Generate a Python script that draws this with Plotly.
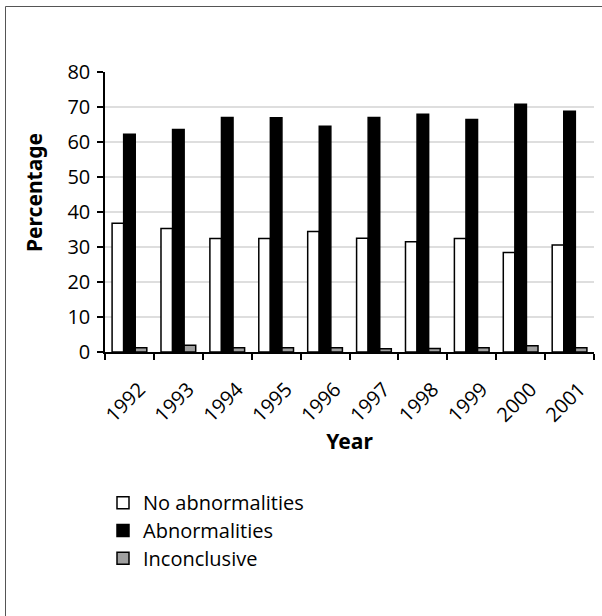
import plotly.graph_objects as go

years = ["1992", "1993", "1994", "1995", "1996", "1997", "1998", "1999", "2000", "2001"]
no_abnormalities = [36.8, 35.3, 32.4, 32.4, 34.4, 32.5, 31.5, 32.4, 28.4, 30.6]
abnormalities = [62.2, 63.6, 67.0, 66.9, 64.5, 67.0, 67.9, 66.4, 70.8, 68.8]
inconclusive = [1.2, 1.9, 1.2, 1.2, 1.2, 0.9, 1.0, 1.2, 1.8, 1.2]
series_names = ["No abnormalities", "Abnormalities", "Inconclusive"]
y_ticks = [0, 10, 20, 30, 40, 50, 60, 70, 80]

W, H = 602, 616
L, R, T, B = 105, 8, 72, 264
pw, ph = W - L - R, H - T - B

font_main = "Open Sans, Noto Sans, sans-serif"
font_bold = "Noto Sans, Open Sans, sans-serif"


def px_x(p):
    return (p - L) / pw


def px_y(p):
    return (H - B - p) / ph


def legend_label(name):
    return "<span style='font-size:20px'>" + name + "</span>"


fig = go.Figure()
line = dict(color="black", width=1.5)
fills = ["white", "black", "#a0a0a0"]
for name, vals, fill in zip(series_names, [no_abnormalities, abnormalities, inconclusive], fills):
    fig.add_trace(go.Bar(name=legend_label(name), x=years, y=vals,
                         marker=dict(color=fill, line=line)))

fig.update_layout(
    width=W, height=H,
    margin=dict(l=L, r=R, t=T, b=B, autoexpand=False),
    paper_bgcolor="white", plot_bgcolor="white",
    barmode="group", bargap=0.29, bargroupgap=0,
    font=dict(family=font_main, color="black", size=20),
    showlegend=True,
    legend=dict(x=px_x(103), y=px_y(484), xanchor="left", yanchor="top",
                font=dict(size=19, family=font_main), itemwidth=30,
                tracegroupgap=0, bgcolor="rgba(0,0,0,0)"),
    xaxis=dict(
        type="category", tickangle=-45, tickson="boundaries",
        ticks="outside", ticklen=6, tickwidth=1.5, tickcolor="black",
        showline=True, linecolor="black", linewidth=1.5,
        showgrid=False, ticklabelshift=10, ticklabelstandoff=16,
        tickfont=dict(size=20, family=font_main),
        title=dict(text="<b>Year</b>", font=dict(size=21, family=font_bold), standoff=2),
    ),
    yaxis=dict(
        range=[0, 80], tickvals=y_ticks, ticktext=[str(v) for v in y_ticks],
        ticks="outside", ticklen=6, tickwidth=1.5, tickcolor="black",
        showline=True, linecolor="black", linewidth=1.5,
        showgrid=True, gridcolor="#dedede", gridwidth=1.5,
        zeroline=False, ticklabelstandoff=3,
        tickfont=dict(size=20, family=font_main),
    ),
    annotations=[
        dict(text="<b>Percentage</b>", textangle=-90, xref="paper", yref="paper",
             x=px_x(34), y=px_y(193), xanchor="center", yanchor="middle",
             showarrow=False, font=dict(size=21, family=font_bold)),
    ],
    shapes=[
        dict(type="line", xref="paper", yref="paper",
             x0=px_x(5.5), x1=px_x(W + 5), y0=px_y(6.5), y1=px_y(6.5),
             line=dict(color="#555555", width=1)),
        dict(type="line", xref="paper", yref="paper",
             x0=px_x(5.5), x1=px_x(5.5), y0=px_y(6.5), y1=px_y(H + 5),
             line=dict(color="#555555", width=1)),
    ],
)

fig.write_html("out.html", config={"displayModeBar": False},
               post_script="document.body.style.margin='0';document.body.style.overflow='hidden';")
